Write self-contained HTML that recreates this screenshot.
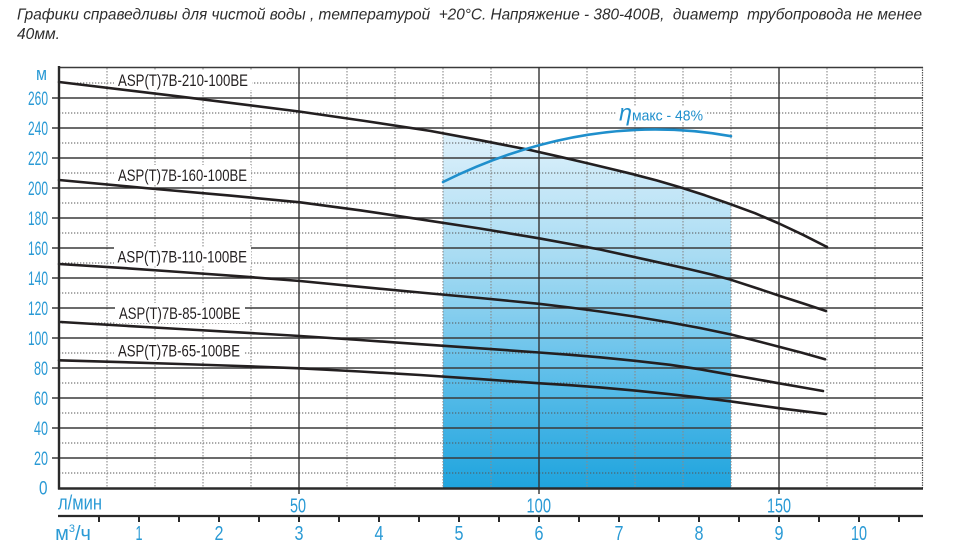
<!DOCTYPE html>
<html><head><meta charset="utf-8"><style>
html,body{margin:0;padding:0;background:#fff;}
svg{display:block;}
text{font-family:"Liberation Sans","Noto Sans CJK SC",sans-serif;}
</style></head><body>
<svg width="960" height="555" viewBox="0 0 960 555" xmlns="http://www.w3.org/2000/svg">
<defs>
<linearGradient id="g" gradientUnits="userSpaceOnUse" x1="0" y1="130" x2="0" y2="488">
<stop offset="0" stop-color="#dff1fb"/>
<stop offset="0.35" stop-color="#a9dcf3"/>
<stop offset="0.7" stop-color="#5bbde9"/>
<stop offset="1" stop-color="#1fa4de"/>
</linearGradient>
</defs>
<rect width="960" height="555" fill="#fff"/>
<!-- header -->
<text x="17" y="19.5" font-size="16" font-style="italic" fill="#2d2d2d" textLength="905" lengthAdjust="spacingAndGlyphs" style="white-space:pre">Графики справедливы для чистой воды , температурой  +20°С. Напряжение - 380-400В,  диаметр  трубопровода не менее</text>
<text x="17" y="39" font-size="16" font-style="italic" fill="#2d2d2d" textLength="43" lengthAdjust="spacingAndGlyphs">40мм.</text>

<!-- shading -->
<polygon points="443,133.4 480,140.2 530,150 560,156.8 587,163.1 610,168.6 633,174.2 657,180.5 680,187.3 705,195.3 731,204.4 731,488 443,488" fill="url(#g)"/>

<!-- dotted horizontal grid -->
<g stroke="#555" stroke-width="1" stroke-dasharray="1.3 1.7" fill="none">
<line x1="59" y1="473" x2="923" y2="473"/><line x1="59" y1="443" x2="923" y2="443"/>
<line x1="59" y1="413" x2="923" y2="413"/><line x1="59" y1="383" x2="923" y2="383"/>
<line x1="59" y1="353" x2="923" y2="353"/><line x1="59" y1="323" x2="923" y2="323"/>
<line x1="59" y1="293" x2="923" y2="293"/><line x1="59" y1="263" x2="923" y2="263"/>
<line x1="59" y1="233" x2="923" y2="233"/><line x1="59" y1="203" x2="923" y2="203"/>
<line x1="59" y1="173" x2="923" y2="173"/><line x1="59" y1="143" x2="923" y2="143"/>
<line x1="59" y1="113" x2="923" y2="113"/><line x1="59" y1="83" x2="923" y2="83"/>
</g>
<!-- dotted vertical grid -->
<g stroke="#8a8a8a" stroke-width="1.1" stroke-dasharray="1.5 1.5" fill="none">
<line x1="107" y1="68" x2="107" y2="488"/><line x1="155" y1="68" x2="155" y2="488"/>
<line x1="203" y1="68" x2="203" y2="488"/><line x1="251" y1="68" x2="251" y2="488"/>
<line x1="347" y1="68" x2="347" y2="488"/><line x1="395" y1="68" x2="395" y2="488"/>
<line x1="443" y1="68" x2="443" y2="488"/><line x1="491" y1="68" x2="491" y2="488"/>
<line x1="587" y1="68" x2="587" y2="488"/><line x1="635" y1="68" x2="635" y2="488"/>
<line x1="683" y1="68" x2="683" y2="488"/><line x1="731" y1="68" x2="731" y2="488"/>
<line x1="827" y1="68" x2="827" y2="488"/><line x1="875" y1="68" x2="875" y2="488"/>
</g>
<line x1="922.5" y1="67" x2="922.5" y2="488" stroke="#555" stroke-width="1.2" stroke-dasharray="1.5 1"/>
<!-- solid horizontal grid -->
<g stroke="#3a3a3a" stroke-width="1.4" fill="none">
<line x1="52" y1="458" x2="923" y2="458"/><line x1="52" y1="428" x2="923" y2="428"/>
<line x1="52" y1="398" x2="923" y2="398"/><line x1="52" y1="368" x2="923" y2="368"/>
<line x1="52" y1="338" x2="923" y2="338"/><line x1="52" y1="308" x2="923" y2="308"/>
<line x1="52" y1="278" x2="923" y2="278"/><line x1="52" y1="248" x2="923" y2="248"/>
<line x1="52" y1="218" x2="923" y2="218"/><line x1="52" y1="188" x2="923" y2="188"/>
<line x1="52" y1="158" x2="923" y2="158"/><line x1="52" y1="128" x2="923" y2="128"/>
<line x1="52" y1="98" x2="923" y2="98"/><line x1="59" y1="67.5" x2="923" y2="67.5"/>
</g>
<!-- solid vertical grid -->
<g stroke="#333" stroke-width="1.4" fill="none">
<line x1="299" y1="67" x2="299" y2="494"/>
<line x1="539" y1="67" x2="539" y2="494"/>
<line x1="779" y1="67" x2="779" y2="494"/>
</g>

<!-- model labels -->
<g fill="#fff">
<rect x="114" y="70" width="138" height="20"/>
<rect x="114" y="165" width="137" height="20"/>
<rect x="114" y="246.5" width="137" height="20"/>
<rect x="115" y="303" width="130" height="20"/>
<rect x="114" y="341" width="130" height="19"/>
</g>
<g font-size="17" fill="#231f20">
<text x="118" y="86" textLength="130" lengthAdjust="spacingAndGlyphs">ASP(T)7B-210-100BE</text>
<text x="118" y="181" textLength="129" lengthAdjust="spacingAndGlyphs">ASP(T)7B-160-100BE</text>
<text x="117.5" y="262.5" textLength="129.5" lengthAdjust="spacingAndGlyphs">ASP(T)7B-110-100BE</text>
<text x="119" y="319" textLength="121.5" lengthAdjust="spacingAndGlyphs">ASP(T)7B-85-100BE</text>
<text x="118" y="356.5" textLength="122" lengthAdjust="spacingAndGlyphs">ASP(T)7B-65-100BE</text>
</g>

<!-- curves -->
<g stroke="#231f20" stroke-width="2.6" fill="none" stroke-linejoin="round" stroke-linecap="round">
<polyline points="59,82 180,96.6 299,111.5 365,121 430,130.9 480,140.2 530,150 560,156.8 587,163.1 610,168.6 633,174.2 657,180.5 680,187.3 705,195.3 730,204 755,213.2 779,223.5 803,234.8 827,247"/>
<polyline points="59,180 150,188.5 230,195.6 300,202.3 360,210.3 420,219.3 480,228.5 539,238.3 600,249.5 647,259.8 690,269.4 711,274.4 731,279.8 755,287.6 779,295.6 803,303.4 826,311"/>
<polyline points="59,264 120,267.8 180,272 240,276.3 300,281 360,286.8 420,292.5 480,298 539,303.8 570,307.5 600,311.5 635,316.6 670,322.5 700,328 731,334.5 755,340.5 779,346.7 802,352.8 825,359.3"/>
<polyline points="61,322 120,325.5 180,329 240,332.4 300,336 360,340 420,344.2 480,348.3 539,352.5 570,354.8 600,357.3 635,360.8 670,364.8 700,369.3 731,374.8 755,379 779,383.3 801,387.1 823,391"/>
<polyline points="59,360.3 120,362.1 180,364 240,366 300,368.3 360,371.5 420,375 480,379.1 540,383.3 570,385.2 600,387.4 635,390.6 670,394.2 700,397.6 731,401.4 755,404.8 779,408.2 803,411.2 826,414"/>
</g>

<!-- efficiency curve -->
<path d="M443,182 Q587,110.7 731,136.2" stroke="#1f8fcc" stroke-width="2.6" fill="none" stroke-linecap="round"/>
<rect x="617" y="107" width="88" height="14" fill="#fff"/>
<text x="619" y="120.5" font-size="23" font-style="italic" fill="#1f8fcc" textLength="13" lengthAdjust="spacingAndGlyphs">η</text>
<text x="632" y="120.5" font-size="14.5" fill="#1f8fcc" textLength="71" lengthAdjust="spacingAndGlyphs" style="white-space:pre">макс - 48%</text>

<!-- axes -->
<line x1="59" y1="66" x2="59" y2="489.5" stroke="#2a2a2a" stroke-width="2.4"/>
<line x1="58" y1="488.5" x2="923" y2="488.5" stroke="#2a2a2a" stroke-width="2.4"/>
<line x1="58" y1="516" x2="923" y2="516" stroke="#2a2a2a" stroke-width="2.2"/>
<g stroke="#2a2a2a" stroke-width="2">
<line x1="99" y1="516" x2="99" y2="522"/><line x1="139" y1="516" x2="139" y2="522"/>
<line x1="179" y1="516" x2="179" y2="522"/><line x1="219" y1="516" x2="219" y2="522"/>
<line x1="259" y1="516" x2="259" y2="522"/><line x1="299" y1="516" x2="299" y2="522"/>
<line x1="339" y1="516" x2="339" y2="522"/><line x1="379" y1="516" x2="379" y2="522"/>
<line x1="419" y1="516" x2="419" y2="522"/><line x1="459" y1="516" x2="459" y2="522"/>
<line x1="499" y1="516" x2="499" y2="522"/><line x1="539" y1="516" x2="539" y2="522"/>
<line x1="579" y1="516" x2="579" y2="522"/><line x1="619" y1="516" x2="619" y2="522"/>
<line x1="659" y1="516" x2="659" y2="522"/><line x1="699" y1="516" x2="699" y2="522"/>
<line x1="739" y1="516" x2="739" y2="522"/><line x1="779" y1="516" x2="779" y2="522"/>
<line x1="819" y1="516" x2="819" y2="522"/><line x1="859" y1="516" x2="859" y2="522"/>
<line x1="899" y1="516" x2="899" y2="522"/>
</g>

<!-- y labels -->
<g font-size="19" fill="#2a9ad5" text-anchor="end">
<text x="47" y="80" font-size="18" textLength="11" lengthAdjust="spacingAndGlyphs">м</text>
<text x="48" y="105" textLength="20" lengthAdjust="spacingAndGlyphs">260</text>
<text x="48" y="135" textLength="20" lengthAdjust="spacingAndGlyphs">240</text>
<text x="48" y="165" textLength="20" lengthAdjust="spacingAndGlyphs">220</text>
<text x="48" y="195" textLength="20" lengthAdjust="spacingAndGlyphs">200</text>
<text x="48" y="225" textLength="20" lengthAdjust="spacingAndGlyphs">180</text>
<text x="48" y="255" textLength="20" lengthAdjust="spacingAndGlyphs">160</text>
<text x="48" y="285" textLength="20" lengthAdjust="spacingAndGlyphs">140</text>
<text x="48" y="315" textLength="20" lengthAdjust="spacingAndGlyphs">120</text>
<text x="48" y="345" textLength="20" lengthAdjust="spacingAndGlyphs">100</text>
<text x="48" y="375" textLength="14" lengthAdjust="spacingAndGlyphs">80</text>
<text x="48" y="405" textLength="14" lengthAdjust="spacingAndGlyphs">60</text>
<text x="48" y="435" textLength="14" lengthAdjust="spacingAndGlyphs">40</text>
<text x="48" y="465" textLength="14" lengthAdjust="spacingAndGlyphs">20</text>
<text x="47.5" y="494.5" textLength="8.5" lengthAdjust="spacingAndGlyphs">0</text>
</g>

<!-- x labels l/min -->
<g font-size="20" fill="#2a9ad5">
<text x="58" y="509.5" textLength="44" lengthAdjust="spacingAndGlyphs">л/мин</text>
<text x="290" y="512.5" textLength="16" lengthAdjust="spacingAndGlyphs">50</text>
<text x="526.5" y="512.5" textLength="24.5" lengthAdjust="spacingAndGlyphs">100</text>
<text x="767" y="512.5" textLength="24" lengthAdjust="spacingAndGlyphs">150</text>
</g>
<!-- x labels m3/h -->
<g font-size="20" fill="#2a9ad5" text-anchor="middle">
<text x="73" y="540" text-anchor="middle">м<tspan font-size="11" dy="-8">3</tspan><tspan dy="8">/ч</tspan></text>
<text x="139" y="540" textLength="7" lengthAdjust="spacingAndGlyphs">1</text>
<text x="219" y="540" textLength="9" lengthAdjust="spacingAndGlyphs">2</text>
<text x="299" y="540" textLength="9" lengthAdjust="spacingAndGlyphs">3</text>
<text x="379" y="540" textLength="9" lengthAdjust="spacingAndGlyphs">4</text>
<text x="459" y="540" textLength="9" lengthAdjust="spacingAndGlyphs">5</text>
<text x="539" y="540" textLength="9" lengthAdjust="spacingAndGlyphs">6</text>
<text x="619" y="540" textLength="9" lengthAdjust="spacingAndGlyphs">7</text>
<text x="699" y="540" textLength="9" lengthAdjust="spacingAndGlyphs">8</text>
<text x="779" y="540" textLength="9" lengthAdjust="spacingAndGlyphs">9</text>
<text x="859" y="540" textLength="16" lengthAdjust="spacingAndGlyphs">10</text>
</g>
</svg>
</body></html>
